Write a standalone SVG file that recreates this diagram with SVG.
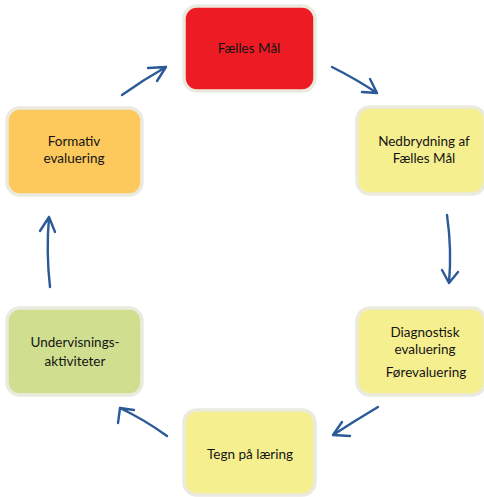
<svg xmlns="http://www.w3.org/2000/svg" width="484" height="497" viewBox="0 0 484 497">
<style>
.box{stroke:#ebeadf;stroke-width:3.5}
.t{font-family:Lato,"Open Sans","Liberation Sans",sans-serif;font-size:13.5px;fill:#141414;text-anchor:middle}
.a{fill:none;stroke:#2b5a96;stroke-width:2.4;stroke-linecap:round;stroke-linejoin:round}
</style>
<rect width="484" height="497" fill="#ffffff"/>
<g id="n1"><rect class="box" x="184" y="6" width="131" height="85" rx="13" fill="#ed1c24"/><text class="t" x="249" y="53">Fælles Mål</text></g>
<g id="n2"><rect class="box" x="357" y="107" width="128" height="87" rx="13" fill="#f6ef90"/><text class="t" x="424" y="146">Nedbrydning af</text><text class="t" x="424" y="163">Fælles Mål</text></g>
<g id="n3"><rect class="box" x="357" y="308" width="128" height="87" rx="13" fill="#f6ef90"/><text class="t" x="425" y="337">Diagnostisk</text><text class="t" x="425" y="354">evaluering</text><text class="t" x="426" y="377">Førevaluering</text></g>
<g id="n4"><rect class="box" x="184" y="410" width="131" height="85" rx="13" fill="#f6ef90"/><text class="t" x="250" y="459">Tegn på læring</text></g>
<g id="n5"><rect class="box" x="7" y="308" width="135" height="87" rx="13" fill="#cfdf8f"/><text class="t" x="75" y="347">Undervisnings-</text><text class="t" x="75" y="366">aktiviteter</text></g>
<g id="n6"><rect class="box" x="7" y="108" width="135" height="87" rx="13" fill="#fdc85c"/><text class="t" x="74" y="146">Formativ</text><text class="t" x="74" y="163">evaluering</text></g>
<g id="connectors">
<path class="a" d="M332 67 Q356 79 377 93 M370 79 L377 93 L362 92"/>
<path class="a" d="M447 215 Q452 250 449 283 M442 270 L449 283 L458 272"/>
<path class="a" d="M378 407 Q356 420 333 435 M342 422 L333 435 L350 436"/>
<path class="a" d="M167 436 Q145 420 120 408 M118 423 L120 408 L134 410"/>
<path class="a" d="M50 287 Q46 252 49 217 M40 231 L49 217 L55 232"/>
<path class="a" d="M122 95 Q143 80 166 67 M148 68 L166 67 L157 81"/>
</g>
</svg>
